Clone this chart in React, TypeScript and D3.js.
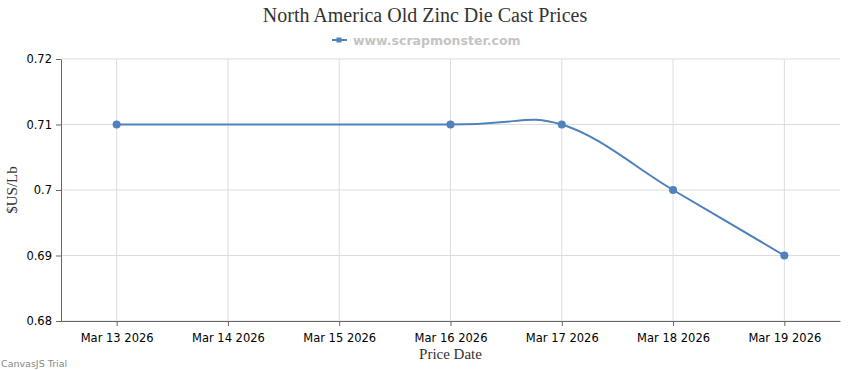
import React, { useEffect, useRef } from 'react'
import * as d3 from 'd3'

const dates = ['2026-03-13', '2026-03-16', '2026-03-17', '2026-03-18', '2026-03-19']
const prices = [0.71, 0.71, 0.71, 0.7, 0.69]
const yTicks = [0.68, 0.69, 0.7, 0.71, 0.72]
const xTickDates = ['2026-03-13', '2026-03-14', '2026-03-15', '2026-03-16', '2026-03-17', '2026-03-18', '2026-03-19']

const LINE = '#4F81BC'
const width = 850
const height = 370
const margin = { top: 59, right: 10, bottom: 49, left: 61 }

const App: React.FC = () => {
    const svgRef = useRef<SVGSVGElement | null>(null)

    useEffect(() => {
        document.body.style.margin = '0'
        const svg = d3.select(svgRef.current)
        svg.selectAll('*').remove()

        const parse = d3.timeParse('%Y-%m-%d')
        const points = dates.map((d, i) => ({ date: parse(d)!, value: prices[i] }))
        const start = d3.timeHour.offset(parse(dates[0])!, -12)
        const end = d3.timeHour.offset(parse(dates[dates.length - 1])!, 12)

        const x = d3.scaleTime().domain([start, end]).range([margin.left, width - margin.right])
        const y = d3.scaleLinear().domain([0.68, 0.72]).range([height - margin.bottom, margin.top])

        const bottom = height - margin.bottom
        const tickDates = xTickDates.map(d => parse(d)!)

        // grid lines
        svg.append('g')
            .selectAll('line.h')
            .data(yTicks)
            .join('line')
            .attr('x1', margin.left).attr('x2', width - margin.right)
            .attr('y1', d => y(d)).attr('y2', d => y(d))
            .attr('stroke', '#dcdcdc').attr('stroke-width', 1)
        svg.append('g')
            .selectAll('line.v')
            .data(tickDates)
            .join('line')
            .attr('x1', d => x(d)).attr('x2', d => x(d))
            .attr('y1', margin.top).attr('y2', bottom)
            .attr('stroke', '#dcdcdc').attr('stroke-width', 1)

        // x axis
        const xAxis = svg.append('g')
            .attr('transform', `translate(0, ${bottom})`)
            .call(d3.axisBottom(x).tickValues(tickDates).tickFormat(d => d3.timeFormat('%b %-d %Y')(d as Date)).tickSize(5).tickSizeOuter(0))
        xAxis.select('.domain').attr('stroke', '#666')
        xAxis.selectAll('.tick line').attr('stroke', '#666')
        xAxis.selectAll('.tick text')
            .attr('font-family', 'DejaVu Sans, sans-serif').attr('font-size', 11.5).attr('fill', '#000').attr('dy', '1.1em')

        // y axis
        const yAxis = svg.append('g')
            .attr('transform', `translate(${margin.left}, 0)`)
            .call(d3.axisLeft(y).tickValues(yTicks).tickFormat(d => String(+d)).tickSize(5).tickSizeOuter(0))
        yAxis.select('.domain').attr('stroke', '#666')
        yAxis.selectAll('.tick line').attr('stroke', '#666')
        yAxis.selectAll('.tick text')
            .attr('font-family', 'DejaVu Sans, sans-serif').attr('font-size', 11.5).attr('fill', '#000').attr('x', -9)

        // line
        const line = d3.line<{ date: Date; value: number }>()
            .x(d => x(d.date))
            .y(d => y(d.value))
            .curve(d3.curveCardinal.tension(0))
        svg.append('path')
            .datum(points)
            .attr('d', line)
            .attr('fill', 'none')
            .attr('stroke', LINE)
            .attr('stroke-width', 2)
        svg.append('g')
            .selectAll('circle')
            .data(points)
            .join('circle')
            .attr('cx', d => x(d.date))
            .attr('cy', d => y(d.value))
            .attr('r', 4)
            .attr('fill', LINE)

        // title
        svg.append('text')
            .attr('x', width / 2).attr('y', 22)
            .attr('text-anchor', 'middle')
            .attr('font-family', 'Liberation Serif, Times New Roman, serif')
            .attr('font-size', 20).attr('fill', '#333')
            .text('North America Old Zinc Die Cast Prices')

        // legend
        const lg = svg.append('g')
        lg.append('line').attr('x1', 332).attr('x2', 347).attr('y1', 40).attr('y2', 40).attr('stroke', LINE).attr('stroke-width', 2)
        lg.append('rect').attr('x', 336.5).attr('y', 37.5).attr('width', 5).attr('height', 5).attr('fill', LINE)
        lg.append('text')
            .attr('x', 353).attr('y', 45)
            .attr('font-family', 'DejaVu Sans, sans-serif').attr('font-weight', 'bold')
            .attr('font-size', 12.5).attr('fill', '#c4c4c4')
            .text('www.scrapmonster.com')

        // axis titles
        svg.append('text')
            .attr('x', (margin.left + width - margin.right) / 2).attr('y', 359)
            .attr('text-anchor', 'middle')
            .attr('font-family', 'Liberation Serif, Times New Roman, serif')
            .attr('font-size', 15).attr('fill', '#333')
            .text('Price Date')
        svg.append('text')
            .attr('transform', `translate(17, ${(margin.top + bottom) / 2}) rotate(-90)`)
            .attr('text-anchor', 'middle')
            .attr('font-family', 'Liberation Serif, Times New Roman, serif')
            .attr('font-size', 15).attr('fill', '#333')
            .text('$US/Lb')

        svg.append('text')
            .attr('x', 1).attr('y', 367)
            .attr('font-family', 'DejaVu Sans, sans-serif')
            .attr('font-size', 9.5).attr('fill', '#888')
            .text('CanvasJS Trial')
    }, [])

    return <svg ref={svgRef} width={width} height={height} style={{ display: 'block', background: '#fff' }} />
}

export default App
